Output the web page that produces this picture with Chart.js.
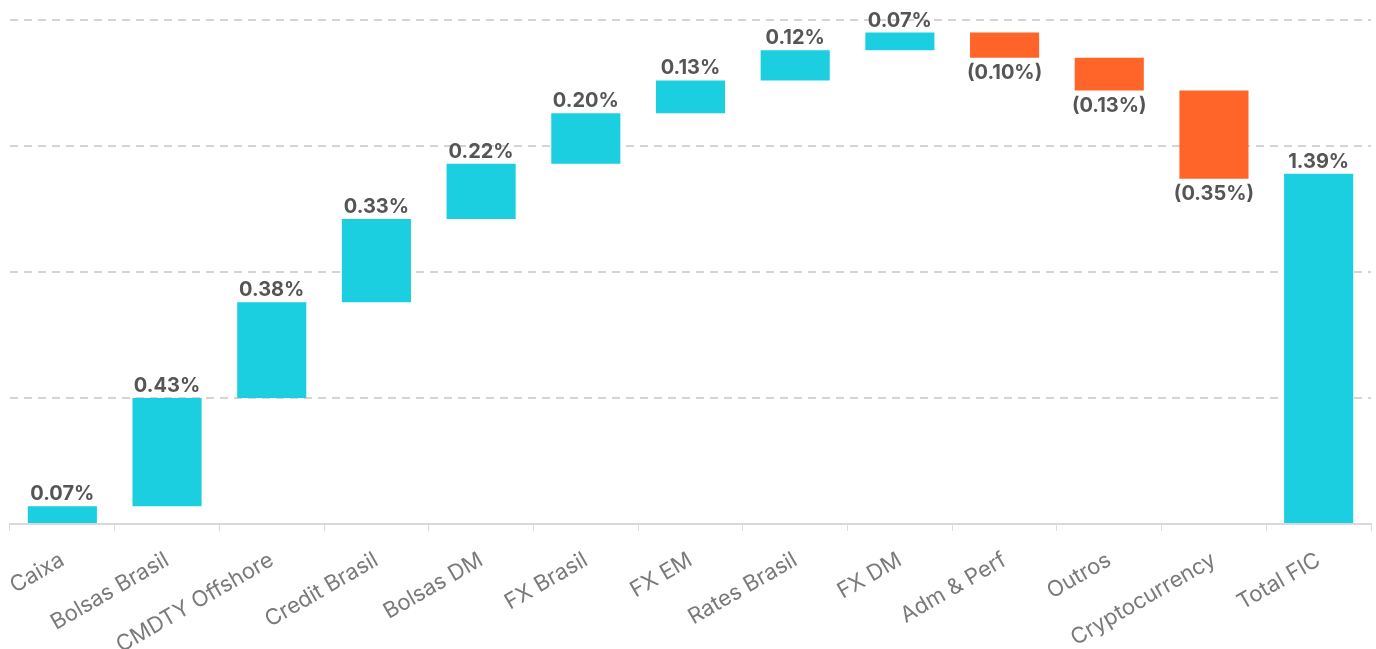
<!DOCTYPE html>
<html><head><meta charset="utf-8">
<script src="https://cdn.jsdelivr.net/npm/chart.js@4/dist/chart.umd.min.js"></script>
<style>html,body{margin:0;padding:0;background:#fff}#wrap{width:1376px;height:649px}</style>
</head><body><div id="wrap"><canvas id="c"></canvas></div>
<script>
const categories = ['Caixa','Bolsas Brasil','CMDTY Offshore','Credit Brasil','Bolsas DM','FX Brasil','FX EM','Rates Brasil','FX DM','Adm & Perf','Outros','Cryptocurrency','Total FIC'];
const deltas = [0.07,0.43,0.38,0.33,0.22,0.20,0.13,0.12,0.07,-0.10,-0.13,-0.35];
const total = 1.39;
const yTicks = [0,0.5,1.0,1.5,2.0];

const ranges = [];
let run = 0;
deltas.forEach(d => { ranges.push([run, run + d]); run += d; });
ranges.push([0, total]);
const values = deltas.concat([total]);
const CYAN = '#1BCFE1', ORANGE = '#FF6428';
const colors = values.map((v,i) => (i === values.length-1 || v >= 0) ? CYAN : ORANGE);
const fmt = v => v < 0 ? '(' + Math.abs(v).toFixed(2) + '%)' : v.toFixed(2) + '%';

const labelPlugin = {
  id: 'wfLabels',
  afterDatasetsDraw(chart) {
    const ctx = chart.ctx;
    const meta = chart.getDatasetMeta(0);
    ctx.save();
    ctx.font = '700 20px Inter, "Noto Sans", sans-serif';
    ctx.fillStyle = '#555555';
    ctx.textAlign = 'center';
    meta.data.forEach((el, i) => {
      const v = values[i];
      const r = ranges[i];
      if (v >= 0) {
        const top = chart.scales.y.getPixelForValue(Math.max(r[0], r[1]));
        ctx.textBaseline = 'bottom';
        ctx.fillText(fmt(v), el.x, top - 2);
      } else {
        const bot = chart.scales.y.getPixelForValue(Math.min(r[0], r[1]));
        ctx.textBaseline = 'top';
        ctx.fillText(fmt(v), el.x, bot + 5);
      }
    });
    ctx.restore();
  }
};

new Chart(document.getElementById('c'), {
  type: 'bar',
  data: { labels: categories, datasets: [{ data: ranges, backgroundColor: colors, borderWidth: 0, categoryPercentage: 0.66, barPercentage: 1.0 }] },
  options: {
    responsive: true, maintainAspectRatio: false, animation: false,
    layout: { padding: { top: 20, right: 5, left: 0, bottom: 0 } },
    plugins: { legend: { display: false }, tooltip: { enabled: false } },
    scales: {
      x: {
        grid: { display: true, drawOnChartArea: false, drawTicks: true, tickLength: 7, color: '#d9d9d9', offset: true },
        border: { display: true, color: '#d9d9d9', width: 2 },
        ticks: { color: '#7a7a7a', font: { family: 'Inter, "Noto Sans", sans-serif', size: 22 }, minRotation: 30, maxRotation: 30, padding: 16 },
        afterFit: s => { s.height = 125; s.paddingLeft = 0; s.paddingRight = 0; }
      },
      y: {
        min: 0, max: 2.0,
        afterBuildTicks: s => { s.ticks = yTicks.map(v => ({ value: v })); },
        ticks: { display: false },
        grid: { color: ctx => ctx.tick && ctx.tick.value === 0 ? 'rgba(0,0,0,0)' : '#d4d4d4', lineWidth: 2, drawTicks: false },
        border: { display: false, dash: [8,6] },
        afterFit: s => { s.width = 10; }
      }
    }
  },
  plugins: [labelPlugin]
});
</script></body></html>
